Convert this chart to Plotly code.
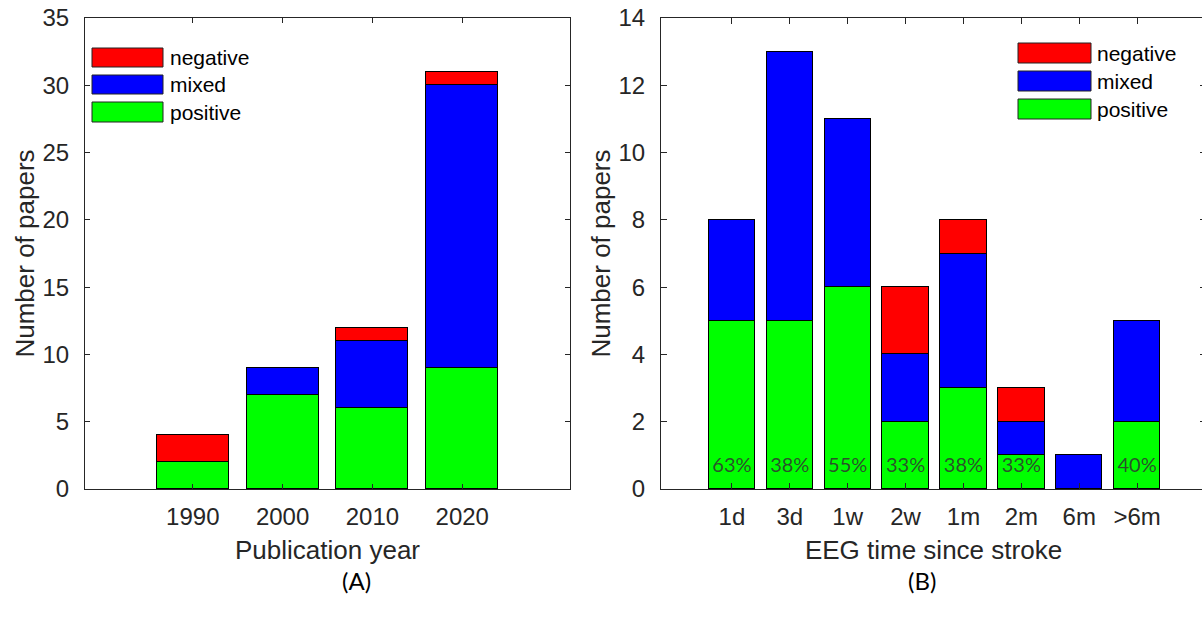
import plotly.graph_objects as go

W, H = 1210, 623   # a few pixels wider than the window so the far-right axis line falls off-screen, as in the reference

# ---------------- data ----------------
years = [1990, 2000, 2010, 2020]
year_positive = [2, 7, 6, 9]
year_mixed = [0, 2, 5, 21]
year_negative = [2, 0, 1, 1]

times = ["1d", "3d", "1w", "2w", "1m", "2m", "6m", ">6m"]
time_positive = [5, 5, 6, 2, 3, 1, 0, 2]
time_mixed = [3, 8, 5, 2, 4, 1, 1, 3]
time_negative = [0, 0, 0, 2, 1, 1, 0, 0]

series_names = ["positive", "mixed", "negative"]
series_colors = ["#00FF00", "#0000FF", "#FF0000"]

AX = "#262626"
FONT = "Liberation Sans, Arial, sans-serif"

def px_x(p):
    return p / W

def px_y(p):
    return 1 - p / H

fig = go.Figure()

# left panel bars
for name, vals, col in zip(series_names, [year_positive, year_mixed, year_negative], series_colors):
    fig.add_trace(go.Bar(x=years, y=vals, name=name, width=8, marker_color=col,
                         marker_line_color="black", marker_line_width=1.5,
                         xaxis="x", yaxis="y", showlegend=False))

# right panel bars
for name, vals, col in zip(series_names, [time_positive, time_mixed, time_negative], series_colors):
    fig.add_trace(go.Bar(x=times, y=vals, name=name, width=0.8, marker_color=col,
                         marker_line_color="black", marker_line_width=1.5,
                         xaxis="x2", yaxis="y2", showlegend=False))

# percentage labels
pct_x, pct_t = [], []
for t, p, m, n in zip(times, time_positive, time_mixed, time_negative):
    tot = p + m + n
    if p > 0:
        pct_x.append(t)
        pct_t.append(f"{round(100 * p / tot + 1e-9):.0f}%")
fig.add_trace(go.Scatter(x=pct_x, y=[0.65] * len(pct_x), text=pct_t, mode="text",
                         textfont=dict(family="Lato, sans-serif", size=20, color="rgba(50,50,50,0.85)"),
                         xaxis="x2", yaxis="y2", showlegend=False, hoverinfo="skip"))

ydom = [px_y(489), px_y(18)]
def axis_style(tl):
    return dict(showline=True, linecolor=AX, linewidth=1, mirror="ticks", ticks="inside",
                ticklen=tl, tickcolor=AX, showgrid=False, zeroline=False, automargin=False,
                ticklabeloverflow="allow",
                tickfont=dict(family=FONT, size=24, color=AX))
title_font = dict(family=FONT, size=26, color=AX)

fig.update_layout(
    width=W, height=H, autosize=False,
    margin=dict(l=0, r=0, t=0, b=0, pad=0),
    paper_bgcolor="white", plot_bgcolor="white",
    barmode="stack", bargap=0,
    xaxis=dict(domain=[px_x(85), px_x(570)], range=[1978, 2032], tickvals=years,
               ticklabelstandoff=6,
               title=dict(text="Publication year", font=title_font, standoff=12),
               anchor="y", **axis_style(5)),
    yaxis=dict(domain=ydom, range=[0, 35], dtick=5, ticklabelstandoff=10,
               title=dict(text="Number of papers", font=title_font, standoff=0),
               anchor="x", **axis_style(5)),
    xaxis2=dict(domain=[px_x(661), px_x(1206)], range=[-1.225, 8.19], type="category",
                ticklabelstandoff=6,
                title=dict(text="EEG time since stroke", font=title_font, standoff=12),
                anchor="y2", **axis_style(6)),
    yaxis2=dict(domain=ydom, range=[0, 14], dtick=2, ticklabelstandoff=10,
                title=dict(text="Number of papers", font=title_font, standoff=0),
                anchor="x2", **axis_style(6)),
)

# manual legends (wide swatches like the original)
legend_order = ["negative", "mixed", "positive"]
legend_cols = {"negative": "#FF0000", "mixed": "#0000FF", "positive": "#00FF00"}

def add_legend(x0, x1, tx, rows):
    for name, (y0, y1) in zip(legend_order, rows):
        fig.add_shape(type="rect", xref="paper", yref="paper",
                      x0=px_x(x0), x1=px_x(x1), y0=px_y(y1), y1=px_y(y0),
                      fillcolor=legend_cols[name], line=dict(color="#222222", width=1))
        fig.add_annotation(xref="paper", yref="paper", x=px_x(tx), y=px_y((y0 + y1) / 2),
                           text=name, showarrow=False, xanchor="left", yanchor="middle",
                           font=dict(family=FONT, size=21, color="black"))

add_legend(92, 163, 168, [(48, 67), (75, 94), (102, 122)])
add_legend(1018, 1091, 1095, [(43, 63), (71, 91), (99, 119)])

for txt, cx in [("(A)", 356), ("(B)", 922)]:
    fig.add_annotation(xref="paper", yref="paper", x=px_x(cx), y=px_y(580), text=txt,
                       showarrow=False, xanchor="center", yanchor="middle",
                       font=dict(family="Lato, sans-serif", size=24, color="black"))

fig.write_html("out.html", config={"displayModeBar": False},
               post_script="document.body.style.margin='0px';document.body.style.overflow='hidden';")
